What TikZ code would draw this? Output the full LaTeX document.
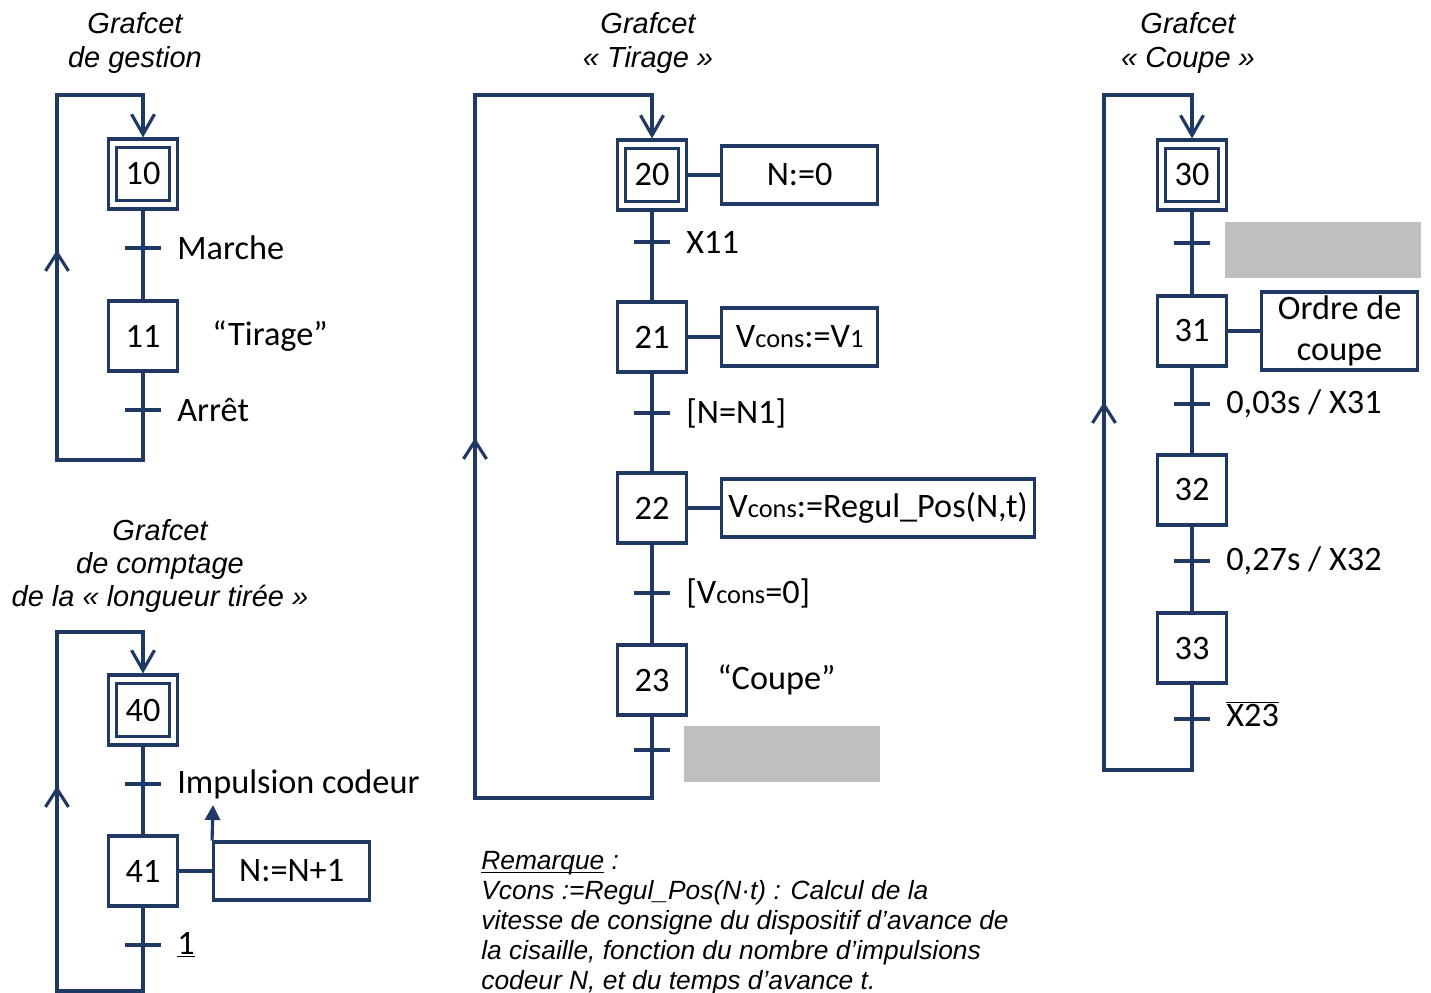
\documentclass[tikz,border=0pt]{standalone}
\usepackage{fontspec}
\setmainfont{Carlito}
\newfontfamily\arialfont{Liberation Sans}
\usetikzlibrary{arrows.meta, positioning}

\definecolor{gline}{RGB}{31,56,100}
\definecolor{ghide}{RGB}{191,191,191}
\newcommand{\sm}[1]{{\fontsize{15}{15}\selectfont #1}}
\newcommand{\remul}[1]{\setbox0\hbox{#1}\rlap{\rule[-2pt]{\wd0}{0.7pt}}#1}

\begin{document}
\begin{tikzpicture}[x=0.02cm, y=-0.02cm,
    font=\fontsize{19.5}{23}\selectfont,
    link/.style={draw=gline, line width=1.8pt},
    stepbox/.style={draw=gline, line width=1.8pt, minimum width=1.38cm, minimum height=1.4cm, inner sep=0pt},
    initbox/.style={stepbox, minimum width=1.07cm, minimum height=1.05cm},
    actbox/.style={draw=gline, line width=1.8pt, minimum width=3.12cm, minimum height=1.16cm, inner sep=0pt},
    trans/.style={minimum width=0.72cm, minimum height=0pt, inner sep=0pt, outer sep=0pt},
    hidebox/.style={fill=ghide, minimum width=3.92cm, minimum height=1.12cm, inner sep=0pt},
    gtitle/.style={font=\arialfont\itshape\fontsize{16.5}{19}\selectfont, align=center, inner sep=0pt},
    remark/.style={font=\arialfont\itshape\fontsize{15}{17.1}\selectfont, align=left, inner sep=0pt},
    every label/.style={inner sep=0pt, xshift=0.32cm},
    node distance=0.64cm,
    loopend/.style={-{Straight Barb[length=0.4cm, width=0.46cm]}},
    upend/.style={-{Straight Barb[length=0.36cm, width=0.46cm]}}]

    \useasboundingbox (0,0) rectangle (1431,993);

    \node[gtitle] (tg) at (135,43) {Grafcet\\de gestion};
    \node[gtitle] (tc) at (160,566) {Grafcet\\de comptage\\de la « longueur tirée »};
    \node[gtitle] (tt) at (648,43) {Grafcet\\« Tirage »};
    \node[gtitle] (tk) at (1188,43) {Grafcet\\« Coupe »};

    \node[initbox] (s10) at (143,174) {10};
    \node[stepbox] (s10o) at (s10) {};
    \node[trans, label=right:Marche] (t10) at (143,248) {};
    \node[stepbox] (s11) at (143,336) {11};
    \node[right=0.66cm of s11, inner sep=0pt] (l11) {“Tirage”};
    \node[trans, label=right:Arrêt] (t11) at (143,410) {};
    \coordinate (g1t) at (57,95);
    \coordinate (g1b) at (57,460);
    \coordinate (g1u) at (57,250);

    \node[initbox] (s40) at (143,710) {40};
    \node[stepbox] (s40o) at (s40) {};
    \node[trans, label=right:Impulsion codeur] (t40) at (143,784) {};
    \node[stepbox] (s41) at (143,871) {41};
    \node[actbox, right=0.66cm of s41] (a41) {N:=N+1};
    \node[trans, label={right:\underline{1}}] (t41) at (143,945) {};
    \coordinate (imp) at (213,805);
    \coordinate (g4t) at (57,632);
    \coordinate (g4b) at (57,991);
    \coordinate (g4u) at (57,786);

    \node[initbox] (s20) at (652,175) {20};
    \node[stepbox] (s20o) at (s20) {};
    \node[actbox, right=of s20o] (a20) {N:=0};
    \node[trans, label=right:X11] (t20) at (652,242) {};
    \node[stepbox] (s21) at (652,337) {21};
    \node[actbox, right=of s21] (a21) {V\sm{cons}:=V\sm{1}};
    \node[trans, label={right:{[N=N1]}}] (t21) at (652,413) {};
    \node[stepbox] (s22) at (652,508) {22};
    \node[actbox, right=of s22, minimum width=6.26cm] (a22) {V\sm{cons}:=Regul\_Pos(N,t)};
    \node[trans, label={right:{[V\sm{cons}=0]}}] (t22) at (652,593) {};
    \node[stepbox] (s23) at (652,680) {23};
    \node[right=0.58cm of s23, inner sep=0pt] (l23) {“Coupe”};
    \node[trans] (t23) at (652,750) {};
    \node[hidebox] (h23) at (782,754) {};
    \coordinate (g2t) at (475,95);
    \coordinate (g2b) at (475,798);
    \coordinate (g2u) at (475,438);

    \node[initbox] (s30) at (1192,175) {30};
    \node[stepbox] (s30o) at (s30) {};
    \node[trans] (t30) at (1192,243) {};
    \node[hidebox] (h30) at (1323,250) {};
    \node[stepbox] (s31) at (1192,331) {31};
    \node[actbox, right=of s31, minimum height=1.56cm, align=center] (a31) {Ordre de\\coupe};
    \node[trans, label={right:0,03s / X31}] (t31) at (1192,404) {};
    \node[stepbox] (s32) at (1192,490) {32};
    \node[trans, label={right:0,27s / X32}] (t32) at (1192,561) {};
    \node[stepbox] (s33) at (1192,648) {33};
    \node[trans, label={[yshift=0.1cm]right:$\overline{\mbox{X23}}$}] (t33) at (1192,719) {};
    \coordinate (g3t) at (1104,95);
    \coordinate (g3b) at (1104,770);
    \coordinate (g3u) at (1104,402);

    \node[remark, anchor=north west] (rem) at (481,851) {\remul{Remarque} :\\Vcons :=Regul\_Pos(N·t) : Calcul de la\\vitesse de consigne du dispositif d’avance de\\la cisaille, fonction du nombre d’impulsions\\codeur N, et du temps d’avance t.};

    \foreach \tr in {t10,t11,t40,t41,t20,t21,t22,t23,t30,t31,t32,t33}
        \draw[link] (\tr.west) -- (\tr.east);

    \draw[link] (s10o) -- (s11)
        (s40o) -- (s41)
        (s20o) -- (s21)
        (s21) -- (s22)
        (s22) -- (s23)
        (s30o) -- (s31)
        (s31) -- (s32)
        (s32) -- (s33);
    \draw[link] (s20o) -- (a20)
        (s21) -- (a21)
        (s22) -- (a22)
        (s31) -- (a31)
        (s41) -- (a41);
    \draw[link, -{Triangle[length=0.3cm, width=0.3cm]}] (a41.north west) -- (imp);

    \draw[link, loopend] (s11) |- (g1b) -- (g1t) -| (s10o);
    \draw[link, loopend] (s41) |- (g4b) -- (g4t) -| (s40o);
    \draw[link, loopend] (s23) |- (g2b) -- (g2t) -| (s20o);
    \draw[link, loopend] (s33) |- (g3b) -- (g3t) -| (s30o);
    \draw[link, upend] (g1b) -- (g1u);
    \draw[link, upend] (g4b) -- (g4u);
    \draw[link, upend] (g2b) -- (g2u);
    \draw[link, upend] (g3b) -- (g3u);
\end{tikzpicture}
\end{document}
